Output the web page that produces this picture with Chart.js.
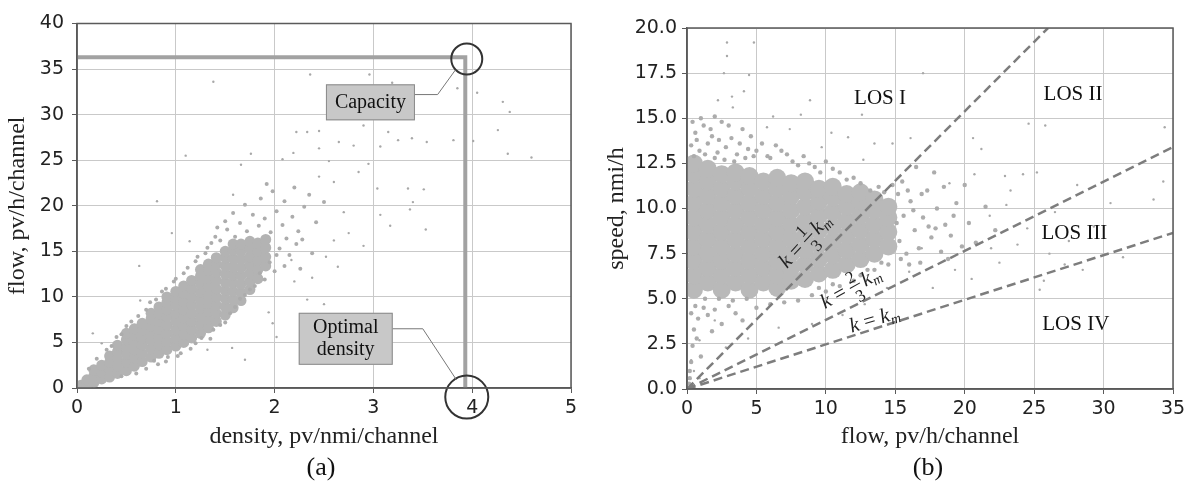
<!DOCTYPE html>
<html>
<head>
<meta charset="utf-8">
<script src="https://cdn.jsdelivr.net/npm/chart.js@4.4.1/dist/chart.umd.min.js"></script>
<style>
  body { margin: 0; background: #fff; width: 1192px; height: 485px; overflow: hidden; position: relative; }
  canvas { position: absolute; top: 0; }
  #chartA { left: 0; }
  #chartB { left: 596px; }
  .cap { position: absolute; top: 452px; font: 26px "Liberation Serif", serif; color: #111; transform: translateX(-50%); }
</style>
</head>
<body>
<canvas id="chartA" width="596" height="455"></canvas>
<canvas id="chartB" width="596" height="455"></canvas>
<div class="cap" style="left:321px">(a)</div>
<div class="cap" style="left:928px">(b)</div>
<script>
// ---- (a) density vs flow ----
// dense core of the cloud, one column of flows per density value
const coreDensityA = [0.04, 0.1, 0.17, 0.25, 0.33, 0.41, 0.5, 0.58, 0.66, 0.75, 0.83, 0.91, 1.0, 1.08, 1.16, 1.25, 1.33, 1.41, 1.5, 1.58, 1.66, 1.75, 1.83, 1.91];
const coreFlowA = [
  [0.3],
  [0.3, 0.9],
  [0.6, 1.3, 2.0],
  [1.0, 1.7, 2.5],
  [1.2, 2.0, 2.8, 3.5],
  [1.6, 2.4, 3.2, 4.0, 4.7],
  [1.9, 2.8, 3.7, 4.5, 5.3, 6.0],
  [2.4, 3.3, 4.2, 5.0, 5.8, 6.5],
  [2.9, 3.8, 4.7, 5.5, 6.3, 7.1],
  [3.4, 4.3, 5.2, 6.0, 6.8, 7.6, 8.2],
  [3.8, 4.7, 5.6, 6.5, 7.3, 8.1, 8.9],
  [4.2, 5.1, 6.0, 6.9, 7.8, 8.6, 9.4, 10.0],
  [4.6, 5.5, 6.4, 7.3, 8.2, 9.1, 9.9, 10.6],
  [5.0, 5.9, 6.8, 7.7, 8.6, 9.5, 10.4, 11.2],
  [5.5, 6.4, 7.3, 8.2, 9.1, 10.0, 10.9, 11.8],
  [6.0, 6.9, 7.8, 8.7, 9.6, 10.5, 11.4, 12.3, 13.0],
  [6.6, 7.5, 8.4, 9.3, 10.2, 11.1, 12.0, 12.9, 13.6],
  [7.3, 8.2, 9.1, 10.0, 10.9, 11.8, 12.7, 13.6, 14.3],
  [8.0, 8.9, 9.8, 10.7, 11.6, 12.5, 13.4, 14.3, 15.0],
  [8.8, 9.7, 10.6, 11.5, 12.4, 13.3, 14.2, 15.1, 15.8],
  [9.6, 10.5, 11.4, 12.3, 13.2, 14.1, 15.0, 15.8],
  [10.8, 11.7, 12.6, 13.5, 14.4, 15.3, 16.1],
  [12.0, 13.0, 14.0, 15.0, 15.9],
  [13.4, 14.4, 15.4, 16.3]
];
// fringe of the cloud, [density, flow]
const midA = [
  [1.45,16.2],[1.52,17.4],[1.6,16.6],[1.65,18.1],[1.72,17.2],[1.78,19.0],[1.84,17.8],[1.9,18.6],[1.96,17.1],[2.02,19.4],
  [2.08,17.9],[2.12,16.4],[1.7,20.1],[1.86,20.8],[1.98,21.6],[2.1,20.5],[2.18,18.8],[2.24,17.2],[2.3,19.9],[2.05,15.3],
  [2.15,14.6],[2.22,15.8],[1.58,19.2],[1.5,18.3],[1.42,17.6],[1.36,15.9],[1.92,22.4],[2.2,22.0],[2.35,21.2],[2.42,18.2],
  [2.5,20.4],[2.28,16.3],[2.38,14.8],[2.0,12.8],[2.1,13.4],[2.26,13.1],[1.8,11.2],[1.9,11.9],[1.7,10.2],[1.6,8.9],
  [1.5,7.2],[1.38,6.4],[1.26,5.5],[1.15,4.3],[1.05,3.8],[0.92,3.4],[0.82,2.6],[0.7,2.1],[1.3,14.8],[1.2,13.9],
  [1.08,12.6],[0.98,11.7],[0.86,10.6],[0.74,9.4],[0.62,7.9],[0.5,6.8],[0.4,5.6],[0.3,4.2],[0.2,3.2],[0.12,2.1],
  [0.45,1.3],[0.6,1.6],[0.78,3.0],[0.9,2.9],[1.02,3.5],[1.2,4.9],[1.35,5.4],[1.45,6.9],[1.55,8.2],[1.65,9.8],
  [1.75,10.8],[1.85,12.6],[1.95,13.8],[2.02,14.6],[0.35,4.6],[0.45,5.9],[0.55,7.3],[0.7,8.6],[0.8,9.7],[0.9,10.9],
  [1.0,12.0],[1.12,13.2],[1.22,14.4],[1.32,15.4],[1.4,16.6]
];
const sparseA = [
  [1.38,33.6],[0.81,20.5],[1.1,25.5],[1.66,24.5],[1.76,25.7],[0.96,17.0],[1.58,21.2],[2.08,25.1],[2.19,25.8],[2.33,28.1],
  [1.14,16.1],[2.36,34.4],[2.96,34.4],[3.19,33.5],[3.85,32.9],[4.05,32.4],[4.31,31.4],[4.38,30.3],[4.26,28.3],[4.36,25.7],
  [4.6,25.3],[4.01,27.1],[3.81,27.2],[2.22,28.1],[2.45,28.2],[2.45,26.3],[2.9,28.8],[3.15,28.1],[3.39,27.4],[3.54,27.0],
  [3.25,27.2],[3.07,26.5],[2.8,26.6],[3.35,21.9],[3.51,21.8],[3.4,20.4],[3.37,19.6],[3.07,19.0],[3.53,17.4],[3.17,17.8],
  [3.04,21.9],[1.57,4.4],[1.7,3.1],[1.32,4.2],[2.33,9.7],[2.5,9.2],[2.64,13.3],[2.52,14.4],[2.02,5.6],[1.98,7.1],
  [2.38,12.1],[2.2,11.7],[1.94,8.3],[2.17,14.05],[0.64,9.6],[0.63,13.4],[0.25,4.9],[0.16,6.0],[2.6,22.6],[2.7,19.3],
  [2.85,23.7],[2.95,24.6],[2.55,24.9],[2.65,27.0],[2.75,17.0],[2.9,15.6],[2.6,16.2],[2.45,23.2]
];
const capacityFlow = 36.3;
const optimalDensity = 3.93;

// ---- (b) flow vs speed ----
const coreFlowB = [0.5, 1.5, 2.5, 3.5, 4.5, 5.5, 6.5, 7.5, 8.5, 9.5, 10.5, 11.5, 12.5, 13.5, 14.5];
const coreSpeedB = [
  [5.5, 6.3, 7.1, 7.9, 8.7, 9.5, 10.3, 11.1, 11.9, 12.5],
  [5.9, 6.7, 7.5, 8.3, 9.1, 9.9, 10.7, 11.5, 12.2],
  [5.5, 6.3, 7.1, 7.9, 8.7, 9.5, 10.3, 11.1, 11.9],
  [5.9, 6.7, 7.5, 8.3, 9.1, 9.9, 10.7, 11.5, 12.0],
  [5.5, 6.3, 7.1, 7.9, 8.7, 9.5, 10.3, 11.1, 11.8],
  [5.9, 6.7, 7.5, 8.3, 9.1, 9.9, 10.7, 11.5],
  [5.6, 6.3, 7.1, 7.9, 8.7, 9.5, 10.3, 11.1, 11.7],
  [6.0, 6.7, 7.5, 8.3, 9.1, 9.9, 10.7, 11.4],
  [6.1, 6.9, 7.7, 8.5, 9.3, 10.1, 10.9, 11.5],
  [6.4, 7.2, 8.0, 8.8, 9.6, 10.4, 11.1],
  [6.6, 7.4, 8.2, 9.0, 9.8, 10.6, 11.2],
  [6.9, 7.7, 8.5, 9.3, 10.1, 10.8],
  [7.2, 8.0, 8.8, 9.6, 10.4, 10.9],
  [7.5, 8.3, 9.1, 9.9, 10.5],
  [7.9, 8.7, 9.5, 10.1]
];
const midB = [
  [0.3,13.5],[0.6,14.2],[0.9,13.2],[1.2,14.6],[1.5,13.6],[1.8,14.0],[2.2,13.1],[2.5,14.8],[2.8,13.4],[3.2,13.9],
  [3.6,13.0],[4.0,14.4],[4.4,13.3],[4.8,12.9],[5.4,13.6],[6.0,12.8],[6.8,13.2],[7.6,12.6],[8.4,12.9],[9.2,12.3],
  [10.0,12.6],[11.0,12.0],[12.0,11.7],[0.4,14.8],[1.0,15.0],[2.0,15.1],[3.0,14.6],
  [15.3,8.2],[15.6,9.6],[15.8,7.5],[16.1,10.4],[16.4,8.8],[16.7,7.8],[17.0,9.5],[17.3,11.0],[17.6,8.4],
  [18.0,10.0],[18.3,7.6],[18.6,9.1],[19.0,8.5],[19.4,10.3],[19.8,7.9],[15.2,10.8],[15.5,11.5],[16.0,6.9],[17.8,12.0],
  [16.5,12.3],[14.8,11.3],[13.8,11.2],[14.5,6.9],[13.5,6.6],[12.5,6.3],[15.1,9.2],[15.9,11.0],[16.3,9.9],[16.9,10.8],
  [17.4,9.0],[17.9,8.9],[18.5,11.2],[19.2,9.6],[15.4,7.2],[16.8,7.0],[18.8,7.2],[20.3,9.2],[20.8,8.1],[21.5,10.1],
  [22.2,8.8],[20.0,11.3],
  [0.5,12.9],[1.3,13.0],[2.0,12.8],[2.7,12.7],[3.4,12.6],[4.2,12.8],[5.0,13.2],[5.8,12.9],[6.4,13.5],[7.2,13.0],
  [8.0,12.4],[8.8,12.5],[9.6,12.0],[10.5,12.2],[11.5,11.6],[12.5,11.4],[13.2,11.0],[14.2,10.9],[0.7,13.8],[1.7,14.4],
  [2.3,13.8],[3.8,13.6],[4.6,14.0],[13.0,6.6],[14.0,7.0],[9.5,5.6],[10.5,5.8],[12.0,6.0],[1.3,5.0],[2.3,5.0],
  [3.3,4.9],[4.3,5.0],
  [0.2,0.6],[0.3,1.5],[0.4,2.4],[0.5,3.3],[0.3,4.2],[0.8,3.9],[1.2,4.5],[0.7,2.8],[1.0,1.8],[1.5,4.1],
  [2.0,4.4],[2.5,3.6],[3.0,4.6],[3.5,4.2],[4.0,3.8],[0.6,4.6],[1.8,3.2],[5.0,4.5],[6.0,4.7],[7.0,4.8],
  [8.0,4.9],[9.0,5.2],[10.0,5.4],[11.0,5.7],[0.15,0.3],[0.2,1.0]
];
const sparseB = [
  [2.88,19.2],[4.82,19.2],[2.88,18.45],[4.47,17.4],[2.66,17.5],[4.1,16.5],[3.24,16.2],[2.23,16.0],[8.86,16.0],[8.2,15.2],
  [3.3,15.6],[5.76,14.5],[7.4,14.4],[10.4,14.2],[11.6,13.95],[13.5,13.6],[14.8,13.6],[17.0,17.5],[24.6,14.7],[25.8,14.6],
  [34.4,14.5],[21.2,13.3],[16.1,13.9],[34.3,11.5],[22.9,11.8],[24.2,11.9],[25.2,12.0],[23.3,11.0],[20.7,11.9],[28.1,11.3],
  [30.5,10.3],[33.6,10.5],[18.9,11.4],[31.4,7.3],[27.2,6.9],[28.5,6.6],[25.4,5.5],[25.7,6.0],[22.5,7.0],[20.5,6.1],
  [19.3,6.6],[21.9,7.8],[23.8,8.0],[26.1,7.5],[17.7,5.6],[16.9,7.8],[16.0,6.5],[14.4,5.6],[12.8,4.7],[11.2,4.1],
  [9.0,3.6],[6.6,3.4],[4.4,2.8],[2.8,2.3],[2.0,3.8],[0.9,2.7],[0.3,1.6],[0.5,1.0],[0.9,0.6],[6.2,15.1],
  [9.7,13.4],[12.7,12.7],[21.8,9.6],[23.0,10.2],[26.5,9.8],[27.5,8.2],[29.3,9.0],[24.5,8.9],[20.6,13.9],[12.6,15.2]
];
// LOS boundary lines from the origin: end points [flow, speed]
const losLineEnds = [[26.0, 20.0], [35, 13.4], [35, 8.65]];
const losNames = ["LOS I", "LOS II", "LOS III", "LOS IV"];

const GRID = "#c9c9c9", FRAME = "#5a5a5a", SERIF = '"Liberation Serif", "Times New Roman", serif';
const CORE_A = "#b3b3b3", CORE_B = "#b9b9b9", MID = "#acacac", SPARSE = "#a8a8a8";

function pairs(list) {
  return list.map(p => ({ x: p[0], y: p[1] }));
}
function columns(xs, ys) {
  const out = [];
  xs.forEach((x, i) => ys[i].forEach(y => out.push({ x: x, y: y })));
  return out;
}

// dark frame round the plot area
const framePlugin = {
  id: "frame",
  afterDraw(chart) {
    const { ctx, chartArea: a } = chart;
    ctx.save();
    ctx.strokeStyle = FRAME;
    ctx.lineWidth = 1.5;
    ctx.strokeRect(a.left, a.top, a.right - a.left, a.bottom - a.top);
    ctx.restore();
  }
};

function axisX(min, max, step, height, titleText) {
  return {
    type: "linear", min: min, max: max,
    afterFit(s) { s.height = height; },
    ticks: { stepSize: step, padding: 4, color: "#222", font: { family: "DejaVu Sans", size: 19 } },
    grid: { color: GRID, tickColor: FRAME, tickLength: 5 },
    border: { color: FRAME, width: 1.5 },
    title: { display: true, text: titleText, color: "#222", font: { family: SERIF, size: 24 }, padding: { top: 0, bottom: 4 } }
  };
}
function axisY(min, max, step, width, pad, titlePad, titleText, cb) {
  return {
    type: "linear", min: min, max: max,
    afterFit(s) { s.width = width; },
    ticks: { stepSize: step, padding: pad, color: "#222", font: { family: "DejaVu Sans", size: 19 }, callback: cb },
    grid: { color: GRID, tickColor: FRAME, tickLength: 5 },
    border: { color: FRAME, width: 1.5 },
    title: { display: true, text: titleText, color: "#222", font: { family: SERIF, size: 24 }, padding: { top: titlePad, bottom: 0 } }
  };
}

function textBox(ctx, cx, cy, w, h, lines) {
  ctx.save();
  ctx.fillStyle = "#c8c8c8";
  ctx.strokeStyle = "#8a8a8a";
  ctx.lineWidth = 1;
  ctx.fillRect(cx - w / 2, cy - h / 2, w, h);
  ctx.strokeRect(cx - w / 2 + 0.5, cy - h / 2 + 0.5, w - 1, h - 1);
  ctx.fillStyle = "#111";
  ctx.font = "20px " + SERIF;
  ctx.textAlign = "center";
  ctx.textBaseline = "middle";
  const lh = 22;
  lines.forEach((t, i) => ctx.fillText(t, cx, cy + (i - (lines.length - 1) / 2) * lh));
  ctx.restore();
}

const annotateA = {
  id: "annotateA",
  afterDatasetsDraw(chart) {
    const { ctx, scales: { x, y } } = chart;
    // leader lines
    ctx.save();
    ctx.strokeStyle = "#777";
    ctx.lineWidth = 1;
    ctx.beginPath();
    ctx.moveTo(x.getPixelForValue(3.42), y.getPixelForValue(32.2));
    ctx.lineTo(x.getPixelForValue(3.65), y.getPixelForValue(32.2));
    ctx.lineTo(x.getPixelForValue(3.83), y.getPixelForValue(34.9));
    ctx.moveTo(x.getPixelForValue(3.18), y.getPixelForValue(6.5));
    ctx.lineTo(x.getPixelForValue(3.5), y.getPixelForValue(6.5));
    ctx.lineTo(x.getPixelForValue(3.84), y.getPixelForValue(0.9));
    ctx.stroke();
    ctx.restore();
    textBox(ctx, x.getPixelForValue(2.97), y.getPixelForValue(31.35), 89, 36, ["Capacity"]);
    textBox(ctx, x.getPixelForValue(2.72), y.getPixelForValue(5.4), 94, 52, ["Optimal", "density"]);
  }
};

new Chart(document.getElementById("chartA"), {
  type: "scatter",
  data: {
    datasets: [
      { data: [{ x: optimalDensity + 0.015, y: capacityFlow - 0.2 }, { x: optimalDensity + 0.015, y: -1.0 }],
        pointRadius: [15.5, 21.5], pointBackgroundColor: "rgba(0,0,0,0)", pointBorderColor: "#333",
        pointBorderWidth: 2, clip: false, order: 0 },
      { data: [{ x: 0, y: capacityFlow }, { x: optimalDensity, y: capacityFlow }, { x: optimalDensity, y: 0 }],
        showLine: true, borderColor: "#a2a2a2", borderWidth: 4, pointRadius: 0, order: 1 },
      { data: pairs(sparseA), pointRadius: 1.2, pointBackgroundColor: SPARSE, pointBorderWidth: 0, order: 2 },
      { data: pairs(midA), pointRadius: 2, pointBackgroundColor: MID, pointBorderWidth: 0, order: 3 },
      { data: columns(coreDensityA, coreFlowA), pointRadius: 5.5, pointBackgroundColor: CORE_A, pointBorderWidth: 0, order: 4 }
    ]
  },
  options: {
    responsive: false, animation: false, devicePixelRatio: 1,
    layout: { padding: { left: 0, top: 18, right: 25, bottom: 0 } },
    plugins: { legend: { display: false }, tooltip: { enabled: false } },
    scales: {
      x: axisX(0, 5, 1, 455 - 388, "density, pv/nmi/channel"),
      y: axisY(0, 40, 5, 77, 8, 3, "flow, pv/h/channel")
    }
  },
  plugins: [annotateA, framePlugin]
});

// k labels along the dashed lines
function drawK(ctx, cx, cy, deg, num, den) {
  const it = "italic 21px " + SERIF, rm = "21px " + SERIF, sm = "17px " + SERIF, sub = "italic 14px " + SERIF;
  ctx.save();
  ctx.translate(cx, cy);
  ctx.rotate(-deg * Math.PI / 180);
  ctx.fillStyle = "#222";
  ctx.strokeStyle = "#222";
  ctx.textBaseline = "alphabetic";
  ctx.font = it; const wk = ctx.measureText("k").width;
  ctx.font = rm; const we = ctx.measureText(" = ").width;
  ctx.font = sm; const wf = num ? Math.max(ctx.measureText(num).width, ctx.measureText(den).width) + 3 : 0;
  ctx.font = sub; const wm = ctx.measureText("m").width;
  const gap = num ? 3 : 0;
  const total = wk + we + wf + gap + wk + wm;
  let px = -total / 2;
  const base = 6;
  ctx.font = it; ctx.fillText("k", px, base); px += wk;
  ctx.font = rm; ctx.fillText(" = ", px, base); px += we;
  if (num) {
    ctx.font = sm;
    ctx.textAlign = "center";
    ctx.fillText(num, px + wf / 2, base - 10);
    ctx.fillText(den, px + wf / 2, base + 11);
    ctx.textAlign = "left";
    ctx.lineWidth = 1;
    ctx.beginPath();
    ctx.moveTo(px, base - 6);
    ctx.lineTo(px + wf, base - 6);
    ctx.stroke();
    px += wf + gap;
  }
  ctx.font = it; ctx.fillText("k", px, base); px += wk;
  ctx.font = sub; ctx.fillText("m", px, base + 4);
  ctx.restore();
}

const annotateB = {
  id: "annotateB",
  afterDatasetsDraw(chart) {
    const { ctx, scales: { x, y } } = chart;
    const losPos = [[13.9, 16.1], [27.8, 16.3], [27.9, 8.64], [28.0, 3.55]];
    ctx.save();
    ctx.fillStyle = "#111";
    ctx.font = "21px " + SERIF;
    ctx.textAlign = "center";
    ctx.textBaseline = "middle";
    losNames.forEach((t, i) => ctx.fillText(t, x.getPixelForValue(losPos[i][0]), y.getPixelForValue(losPos[i][1])));
    ctx.restore();
    drawK(ctx, x.getPixelForValue(8.5), y.getPixelForValue(8.2), 47, "1", "3");
    drawK(ctx, x.getPixelForValue(11.8), y.getPixelForValue(5.6), 29, "2", "3");
    drawK(ctx, x.getPixelForValue(13.5), y.getPixelForValue(3.85), 17, null, null);
  }
};

const lineSets = losLineEnds.map(e => ({
  data: [{ x: 0, y: 0 }, { x: e[0], y: e[1] }],
  showLine: true, borderColor: "#7d7d7d", borderWidth: 2.5, borderDash: [9, 5], pointRadius: 0, order: 0
}));

new Chart(document.getElementById("chartB"), {
  type: "scatter",
  data: {
    datasets: lineSets.concat([
      { data: pairs(sparseB), pointRadius: 1.2, pointBackgroundColor: SPARSE, pointBorderWidth: 0, order: 2 },
      { data: pairs(midB), pointRadius: 2.2, pointBackgroundColor: MID, pointBorderWidth: 0, order: 3 },
      { data: columns(coreFlowB, coreSpeedB), pointRadius: 9, pointBackgroundColor: CORE_B, pointBorderWidth: 0, order: 4 }
    ])
  },
  options: {
    responsive: false, animation: false, devicePixelRatio: 1,
    layout: { padding: { left: 0, top: 28, right: 19, bottom: 0 } },
    plugins: { legend: { display: false }, tooltip: { enabled: false } },
    scales: {
      x: axisX(0, 35, 5, 455 - 389, "flow, pv/h/channel"),
      y: axisY(0, 20, 2.5, 91, 5, 6, "speed, nmi/h", v => v.toFixed(1))
    }
  },
  plugins: [annotateB, framePlugin]
});
</script>
</body>
</html>
